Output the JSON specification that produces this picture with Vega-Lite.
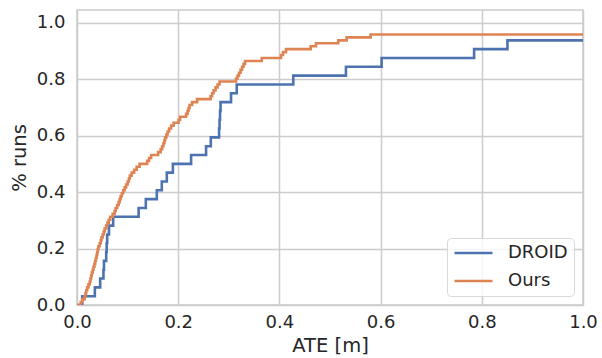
{
  "$schema": "https://vega.github.io/schema/vega-lite/v6.json",
  "width": 506,
  "height": 295,
  "autosize": {"type": "none"},
  "padding": {"left": 77, "top": 10, "right": 19, "bottom": 53},
  "background": "white",
  "data": {
    "values": [
      {"method": "DROID", "ate": 0.0, "frac": 0.0},
      {"method": "DROID", "ate": 0.0103, "frac": 0.03125},
      {"method": "DROID", "ate": 0.0353, "frac": 0.0625},
      {"method": "DROID", "ate": 0.0458, "frac": 0.09375},
      {"method": "DROID", "ate": 0.0523, "frac": 0.125},
      {"method": "DROID", "ate": 0.0533, "frac": 0.15625},
      {"method": "DROID", "ate": 0.0577, "frac": 0.1875},
      {"method": "DROID", "ate": 0.0586, "frac": 0.21875},
      {"method": "DROID", "ate": 0.0596, "frac": 0.25},
      {"method": "DROID", "ate": 0.0632, "frac": 0.28125},
      {"method": "DROID", "ate": 0.0715, "frac": 0.3125},
      {"method": "DROID", "ate": 0.1218, "frac": 0.34375},
      {"method": "DROID", "ate": 0.136, "frac": 0.375},
      {"method": "DROID", "ate": 0.1577, "frac": 0.40625},
      {"method": "DROID", "ate": 0.1676, "frac": 0.4375},
      {"method": "DROID", "ate": 0.1775, "frac": 0.46875},
      {"method": "DROID", "ate": 0.1895, "frac": 0.5},
      {"method": "DROID", "ate": 0.2255, "frac": 0.53125},
      {"method": "DROID", "ate": 0.2551, "frac": 0.5625},
      {"method": "DROID", "ate": 0.2644, "frac": 0.59375},
      {"method": "DROID", "ate": 0.2808, "frac": 0.625},
      {"method": "DROID", "ate": 0.2817, "frac": 0.65625},
      {"method": "DROID", "ate": 0.2827, "frac": 0.6875},
      {"method": "DROID", "ate": 0.2837, "frac": 0.71875},
      {"method": "DROID", "ate": 0.3044, "frac": 0.75},
      {"method": "DROID", "ate": 0.3157, "frac": 0.78125},
      {"method": "DROID", "ate": 0.4274, "frac": 0.8125},
      {"method": "DROID", "ate": 0.5315, "frac": 0.84375},
      {"method": "DROID", "ate": 0.602, "frac": 0.875},
      {"method": "DROID", "ate": 0.7848, "frac": 0.90625},
      {"method": "DROID", "ate": 0.8507, "frac": 0.9375},
      {"method": "DROID", "ate": 1.42, "frac": 0.96875},
      {"method": "DROID", "ate": 2.35, "frac": 1.0},
      {"method": "Ours", "ate": 0.0, "frac": 0.0},
      {"method": "Ours", "ate": 0.0073, "frac": 0.0104},
      {"method": "Ours", "ate": 0.0103, "frac": 0.0208},
      {"method": "Ours", "ate": 0.0152, "frac": 0.0313},
      {"method": "Ours", "ate": 0.0168, "frac": 0.0417},
      {"method": "Ours", "ate": 0.0182, "frac": 0.0521},
      {"method": "Ours", "ate": 0.0201, "frac": 0.0625},
      {"method": "Ours", "ate": 0.0227, "frac": 0.0729},
      {"method": "Ours", "ate": 0.0251, "frac": 0.0833},
      {"method": "Ours", "ate": 0.0267, "frac": 0.0938},
      {"method": "Ours", "ate": 0.028, "frac": 0.1042},
      {"method": "Ours", "ate": 0.0292, "frac": 0.1146},
      {"method": "Ours", "ate": 0.031, "frac": 0.125},
      {"method": "Ours", "ate": 0.0326, "frac": 0.1354},
      {"method": "Ours", "ate": 0.0344, "frac": 0.1458},
      {"method": "Ours", "ate": 0.0359, "frac": 0.1563},
      {"method": "Ours", "ate": 0.0373, "frac": 0.1667},
      {"method": "Ours", "ate": 0.0387, "frac": 0.1771},
      {"method": "Ours", "ate": 0.0399, "frac": 0.1875},
      {"method": "Ours", "ate": 0.0411, "frac": 0.1979},
      {"method": "Ours", "ate": 0.0423, "frac": 0.2083},
      {"method": "Ours", "ate": 0.0448, "frac": 0.2188},
      {"method": "Ours", "ate": 0.0468, "frac": 0.2292},
      {"method": "Ours", "ate": 0.0484, "frac": 0.2396},
      {"method": "Ours", "ate": 0.0507, "frac": 0.25},
      {"method": "Ours", "ate": 0.0527, "frac": 0.2604},
      {"method": "Ours", "ate": 0.0547, "frac": 0.2708},
      {"method": "Ours", "ate": 0.0577, "frac": 0.2813},
      {"method": "Ours", "ate": 0.0602, "frac": 0.2917},
      {"method": "Ours", "ate": 0.0626, "frac": 0.3021},
      {"method": "Ours", "ate": 0.0655, "frac": 0.3125},
      {"method": "Ours", "ate": 0.0705, "frac": 0.3229},
      {"method": "Ours", "ate": 0.0744, "frac": 0.3333},
      {"method": "Ours", "ate": 0.0764, "frac": 0.3438},
      {"method": "Ours", "ate": 0.0794, "frac": 0.3542},
      {"method": "Ours", "ate": 0.0823, "frac": 0.3646},
      {"method": "Ours", "ate": 0.0843, "frac": 0.375},
      {"method": "Ours", "ate": 0.0863, "frac": 0.3854},
      {"method": "Ours", "ate": 0.0886, "frac": 0.3958},
      {"method": "Ours", "ate": 0.0912, "frac": 0.4063},
      {"method": "Ours", "ate": 0.0942, "frac": 0.4167},
      {"method": "Ours", "ate": 0.0971, "frac": 0.4271},
      {"method": "Ours", "ate": 0.1001, "frac": 0.4375},
      {"method": "Ours", "ate": 0.1025, "frac": 0.4479},
      {"method": "Ours", "ate": 0.1044, "frac": 0.4583},
      {"method": "Ours", "ate": 0.108, "frac": 0.4688},
      {"method": "Ours", "ate": 0.1129, "frac": 0.4792},
      {"method": "Ours", "ate": 0.1179, "frac": 0.4896},
      {"method": "Ours", "ate": 0.1238, "frac": 0.5},
      {"method": "Ours", "ate": 0.1386, "frac": 0.5104},
      {"method": "Ours", "ate": 0.1425, "frac": 0.5208},
      {"method": "Ours", "ate": 0.1465, "frac": 0.5313},
      {"method": "Ours", "ate": 0.1603, "frac": 0.5417},
      {"method": "Ours", "ate": 0.1653, "frac": 0.5521},
      {"method": "Ours", "ate": 0.1682, "frac": 0.5625},
      {"method": "Ours", "ate": 0.1708, "frac": 0.5729},
      {"method": "Ours", "ate": 0.1728, "frac": 0.5833},
      {"method": "Ours", "ate": 0.1741, "frac": 0.5938},
      {"method": "Ours", "ate": 0.1767, "frac": 0.6042},
      {"method": "Ours", "ate": 0.1791, "frac": 0.6146},
      {"method": "Ours", "ate": 0.182, "frac": 0.625},
      {"method": "Ours", "ate": 0.186, "frac": 0.6354},
      {"method": "Ours", "ate": 0.1909, "frac": 0.6458},
      {"method": "Ours", "ate": 0.2008, "frac": 0.6563},
      {"method": "Ours", "ate": 0.2038, "frac": 0.6667},
      {"method": "Ours", "ate": 0.2156, "frac": 0.6771},
      {"method": "Ours", "ate": 0.2186, "frac": 0.6875},
      {"method": "Ours", "ate": 0.2205, "frac": 0.6979},
      {"method": "Ours", "ate": 0.2225, "frac": 0.7083},
      {"method": "Ours", "ate": 0.2274, "frac": 0.7188},
      {"method": "Ours", "ate": 0.2373, "frac": 0.7292},
      {"method": "Ours", "ate": 0.264, "frac": 0.7396},
      {"method": "Ours", "ate": 0.2669, "frac": 0.75},
      {"method": "Ours", "ate": 0.2699, "frac": 0.7604},
      {"method": "Ours", "ate": 0.2738, "frac": 0.7708},
      {"method": "Ours", "ate": 0.2778, "frac": 0.7813},
      {"method": "Ours", "ate": 0.2817, "frac": 0.7917},
      {"method": "Ours", "ate": 0.3143, "frac": 0.8021},
      {"method": "Ours", "ate": 0.3173, "frac": 0.8125},
      {"method": "Ours", "ate": 0.3202, "frac": 0.8229},
      {"method": "Ours", "ate": 0.3232, "frac": 0.8333},
      {"method": "Ours", "ate": 0.3262, "frac": 0.8438},
      {"method": "Ours", "ate": 0.3291, "frac": 0.8542},
      {"method": "Ours", "ate": 0.3321, "frac": 0.8646},
      {"method": "Ours", "ate": 0.3651, "frac": 0.875},
      {"method": "Ours", "ate": 0.4032, "frac": 0.8854},
      {"method": "Ours", "ate": 0.4071, "frac": 0.8958},
      {"method": "Ours", "ate": 0.413, "frac": 0.9063},
      {"method": "Ours", "ate": 0.4618, "frac": 0.9167},
      {"method": "Ours", "ate": 0.4723, "frac": 0.9271},
      {"method": "Ours", "ate": 0.5163, "frac": 0.9375},
      {"method": "Ours", "ate": 0.5329, "frac": 0.9479},
      {"method": "Ours", "ate": 0.5803, "frac": 0.9583},
      {"method": "Ours", "ate": 1.21, "frac": 0.9688},
      {"method": "Ours", "ate": 1.58, "frac": 0.9792},
      {"method": "Ours", "ate": 2.16, "frac": 0.9896},
      {"method": "Ours", "ate": 3.05, "frac": 1.0}
    ]
  },
  "mark": {"type": "line", "interpolate": "step-after", "strokeWidth": 2.6, "clip": true},
  "encoding": {
    "x": {
      "field": "ate", "type": "quantitative", "title": "ATE [m]",
      "scale": {"domain": [0, 1], "nice": false, "zero": false},
      "axis": {"values": [0, 0.2, 0.4, 0.6, 0.8, 1.0], "format": ".1f", "labelPadding": 8, "titlePadding": 5, "labelFlush": false}
    },
    "y": {
      "field": "frac", "type": "quantitative", "title": "% runs",
      "scale": {"domain": [0, 1.045], "nice": false, "zero": false},
      "axis": {"values": [0, 0.2, 0.4, 0.6, 0.8, 1.0], "format": ".1f", "labelPadding": 12, "titlePadding": 7}
    },
    "color": {
      "field": "method", "type": "nominal",
      "scale": {"domain": ["DROID", "Ours"], "range": ["#4c72b0", "#dd8452"]},
      "legend": {"title": null}
    }
  },
  "config": {
    "font": "DejaVu Sans",
    "view": {"stroke": "#cccccc", "strokeWidth": 1.5},
    "axis": {
      "grid": true, "gridColor": "#cccccc", "gridWidth": 1.5,
      "domain": false, "ticks": false,
      "labelFont": "DejaVu Sans", "labelFontSize": 18, "labelColor": "#262626",
      "titleFont": "DejaVu Sans", "titleFontSize": 19.5, "titleFontWeight": "normal", "titleColor": "#262626"
    },
    "legend": {
      "orient": "bottom-right", "offset": 9,
      "symbolType": "stroke", "symbolSize": 1444, "symbolStrokeWidth": 2.6,
      "clipHeight": 18, "rowPadding": 10, "padding": 6, "labelOffset": 14,
      "labelFont": "DejaVu Sans", "labelFontSize": 18, "labelColor": "#262626",
      "strokeColor": "#d9d9d9", "fillColor": "rgba(255,255,255,0.8)", "cornerRadius": 4
    }
  }
}
